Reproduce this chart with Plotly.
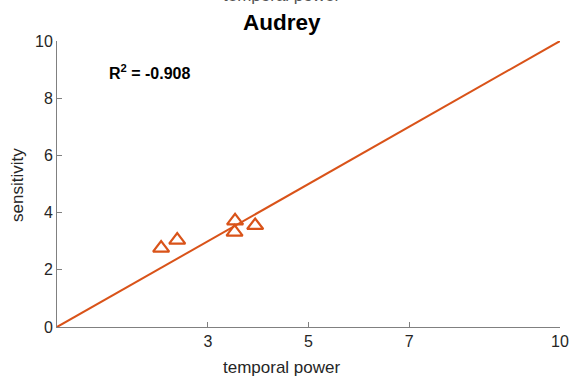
import plotly.graph_objects as go

# Measured points
temporal_power = [2.07, 2.39, 3.54, 3.53, 3.94]
sensitivity = [2.76, 3.04, 3.71, 3.32, 3.55]

# Identity reference line
ref_x = [0, 10]
ref_y = [0, 10]

x_ticks = [3, 5, 7, 10]
y_ticks = [0, 2, 4, 6, 8, 10]
r_squared = -0.908

ORANGE = "#D95319"
TEXT = "#262626"
AXIS = "#808080"
FONT = "Liberation Sans, Arial, Helvetica, sans-serif"

fig = go.Figure()
fig.add_trace(go.Scatter(
    x=ref_x, y=ref_y, mode="lines",
    line=dict(color=ORANGE, width=2), hoverinfo="skip", showlegend=False,
))
fig.add_trace(go.Scatter(
    x=temporal_power, y=sensitivity, mode="markers",
    marker=dict(symbol="triangle-up-open", size=14, color=ORANGE,
                line=dict(width=2.2, color=ORANGE)),
    showlegend=False,
))

axis_common = dict(
    showgrid=False, zeroline=False, showline=True, linecolor=AXIS, linewidth=1,
    ticks="inside", ticklen=5, tickwidth=1, tickcolor=AXIS,
    tickfont=dict(family=FONT, size=16, color=TEXT),
    range=[0, 10], automargin=False,
)

fig.update_layout(
    width=574, height=377,
    margin=dict(l=57, r=14, t=41, b=50),
    paper_bgcolor="white", plot_bgcolor="white",
    font=dict(family=FONT, color=TEXT),
    xaxis=dict(axis_common, tickvals=x_ticks, ticktext=[str(v) for v in x_ticks]),
    yaxis=dict(axis_common, tickvals=y_ticks, ticktext=[str(v) for v in y_ticks]),
    annotations=[
        dict(text="temporal power", x=0.447, y=1.159, xref="paper", yref="paper",
             showarrow=False, font=dict(family=FONT, size=17, color="#555555"),
             xanchor="center", yanchor="middle"),
        dict(text="<b>Audrey</b>", x=0.447, y=1.063, xref="paper", yref="paper",
             showarrow=False, font=dict(family=FONT, size=22.5, color="black"),
             xanchor="center", yanchor="middle"),
        dict(text="temporal power", x=0.447, y=-0.143, xref="paper", yref="paper",
             showarrow=False, font=dict(family=FONT, size=17, color=TEXT),
             xanchor="center", yanchor="middle"),
        dict(text="sensitivity", x=-0.0775, y=0.497, xref="paper", yref="paper",
             showarrow=False, textangle=-90, font=dict(family=FONT, size=17, color=TEXT),
             xanchor="center", yanchor="middle"),
        dict(text="<b>R<sup>2</sup> = %.3f</b>" % r_squared, x=1.0, y=8.9,
             xref="x", yref="y", showarrow=False,
             font=dict(family=FONT, size=16, color="black"),
             xanchor="left", yanchor="middle"),
    ],
)

fig.write_html("out.html")
